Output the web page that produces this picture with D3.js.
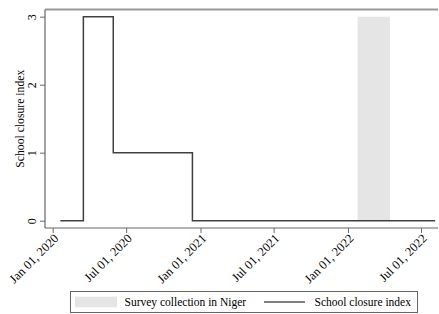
<!DOCTYPE html>
<html><head><meta charset="utf-8">
<script src="https://cdn.jsdelivr.net/npm/d3@7"></script>
<style>body{margin:0;background:#fff}svg{display:block}</style>
</head><body>
<script>
const stepDates = ["2020-01-20","2020-03-17","2020-05-30","2020-12-12","2022-08-05"];
const stepValues = [0, 3, 1, 0, 0];
const surveyStart = "2022-01-25", surveyEnd = "2022-04-15";
const surveyValue = 3;
const xTickDates = ["2020-01-01","2020-07-01","2021-01-01","2021-07-01","2022-01-01","2022-07-01"];
const xTickLabels = ["Jan 01, 2020","Jul 01, 2020","Jan 01, 2021","Jul 01, 2021","Jan 01, 2022","Jul 01, 2022"];
const yTicks = [0,1,2,3];
const legendLabels = ["Survey collection in Niger","School closure index"];

const FONT="Liberation Serif";
const W=439,H=314;
const svg=d3.select("body").append("svg").attr("width",W).attr("height",H);
const P=d3.utcParse("%Y-%m-%d");
const x=d3.scaleUtc().domain([P("2019-12-13"),P("2022-08-12")]).range([45,438]);
const y=d3.scaleLinear().domain([0,3]).range([220.7,16.7]);
const plotTop=9.5,plotBottom=228;

// survey shade
svg.append("rect").attr("x",x(P(surveyStart))).attr("width",x(P(surveyEnd))-x(P(surveyStart)))
  .attr("y",y(surveyValue)).attr("height",y(0)-y(surveyValue)).attr("fill","#e5e5e5");

// step line
const data=stepDates.map((d,i)=>({d:P(d),v:stepValues[i]}));
svg.append("path").datum(data).attr("fill","none").attr("stroke","#404040").attr("stroke-width",1.5)
  .attr("d",d3.line().x(d=>x(d.d)).y(d=>y(d.v)).curve(d3.curveStepAfter));

// top line
svg.append("line").attr("x1",45).attr("x2",438).attr("y1",plotTop).attr("y2",plotTop).attr("stroke","#999").attr("stroke-width",2);

// y axis
const ya=svg.append("g").attr("transform","translate(45,0)")
  .call(d3.axisLeft(y).tickValues(yTicks).tickFormat(d3.format("d")).tickSize(5).tickPadding(4).tickSizeOuter(0));
ya.attr("font-family",FONT);
ya.select(".domain").remove();
ya.append("line").attr("x1",0).attr("x2",0).attr("y1",plotTop).attr("y2",plotBottom).attr("stroke","#666").attr("stroke-width",1.2);
ya.selectAll(".tick line").attr("stroke","#666");
ya.selectAll(".tick text").attr("font-family",FONT).attr("font-size",12).attr("fill","#000").attr("x",null).attr("dy",null)
  .attr("text-anchor","middle").attr("transform","translate(-12.5,0) rotate(-90)").attr("dy","0.32em");

// x axis
const xa=svg.append("g").attr("transform",`translate(0,${plotBottom})`)
  .call(d3.axisBottom(x).tickValues(xTickDates.map(P)).tickFormat((d,i)=>xTickLabels[i]).tickSize(5).tickSizeOuter(0));
xa.attr("font-family",FONT);
xa.select(".domain").remove();
xa.append("line").attr("x1",45).attr("x2",438).attr("y1",0).attr("y2",0).attr("stroke","#666").attr("stroke-width",1.2);
xa.selectAll(".tick line").attr("stroke","#666");
xa.selectAll(".tick text").attr("font-family",FONT).attr("font-size",12.5).attr("fill","#000").attr("y",null).attr("dy",null)
  .attr("text-anchor","end").attr("transform","translate(3,8) rotate(-45)").attr("dy","0.35em");

// y label
svg.append("text").attr("font-family",FONT).attr("transform",`translate(23.5,${(y(0)+y(3))/2}) rotate(-90)`).attr("text-anchor","middle")
  .attr("font-size",11.7).text("School closure index");

// legend
const lg=svg.append("g").attr("font-family",FONT);
lg.append("rect").attr("x",70.5).attr("y",291.5).attr("width",347).attr("height",21).attr("fill","#fff").attr("stroke","#666").attr("stroke-width",1);
lg.append("rect").attr("x",75).attr("y",296.7).attr("width",42).attr("height",10.6).attr("fill","#e5e5e5");
lg.append("text").attr("x",124.5).attr("y",306).attr("font-size",11.5).text(legendLabels[0]);
lg.append("line").attr("x1",264).attr("x2",305).attr("y1",302).attr("y2",302).attr("stroke","#000").attr("stroke-width",1.2);
lg.append("text").attr("x",314.5).attr("y",306).attr("font-size",11.5).text(legendLabels[1]);
</script>
</body></html>
